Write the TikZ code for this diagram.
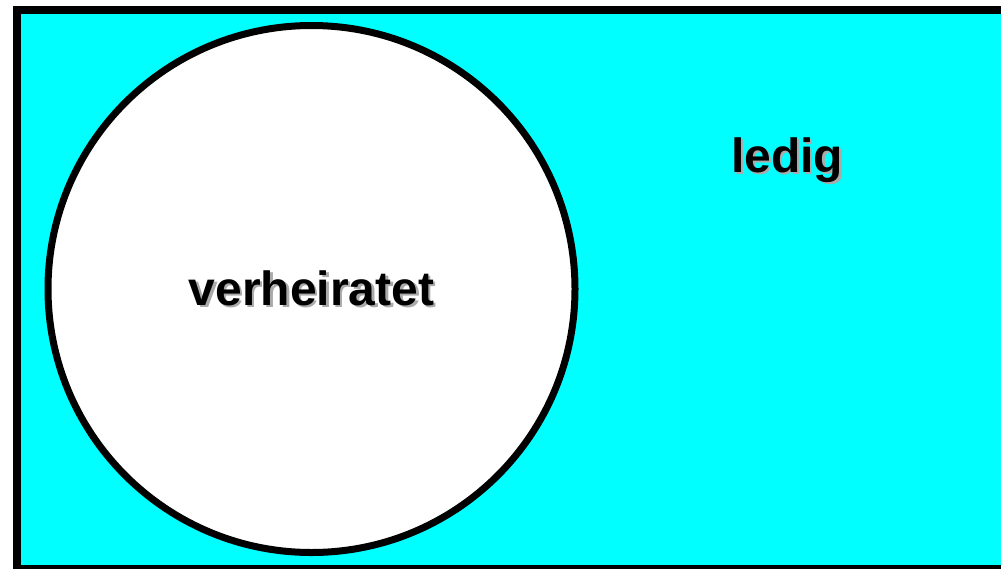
\documentclass[tikz,border=0pt]{standalone}
\usepackage{fontspec}
\setmainfont{Liberation Sans}
\usepackage{tikz}
\definecolor{aqua}{RGB}{0,255,255}
\definecolor{shade}{RGB}{170,170,170}

\begin{document}
\begin{tikzpicture}[
    x=1pt, y=-1pt,
    every node/.style={inner sep=0pt,anchor=base,font=\fontsize{48}{58}\bfseries\selectfont}
]
    \useasboundingbox (0,0) rectangle (1001,568);
    \clip (0,0) rectangle (1001,568);

    \coordinate (NW) at (17,10);
    \coordinate (SE) at (1020,569);
    \coordinate (M) at (311.5,289);
    \coordinate (V) at (311.5,305);
    \coordinate (L) at (787,172);

    \draw[line width=8pt,fill=aqua] (NW) rectangle (SE);
    \draw[line width=7pt,fill=white] (M) circle[radius=263.5];

    \node[text=shade] (Vs) at ([shift={(2.5,2.5)}]V) {verheiratet};
    \node (Vt) at (V) {verheiratet};
    \node[text=shade] (Ls) at ([shift={(2.5,2.5)}]L) {ledig};
    \node (Lt) at (L) {ledig};
\end{tikzpicture}
\end{document}
